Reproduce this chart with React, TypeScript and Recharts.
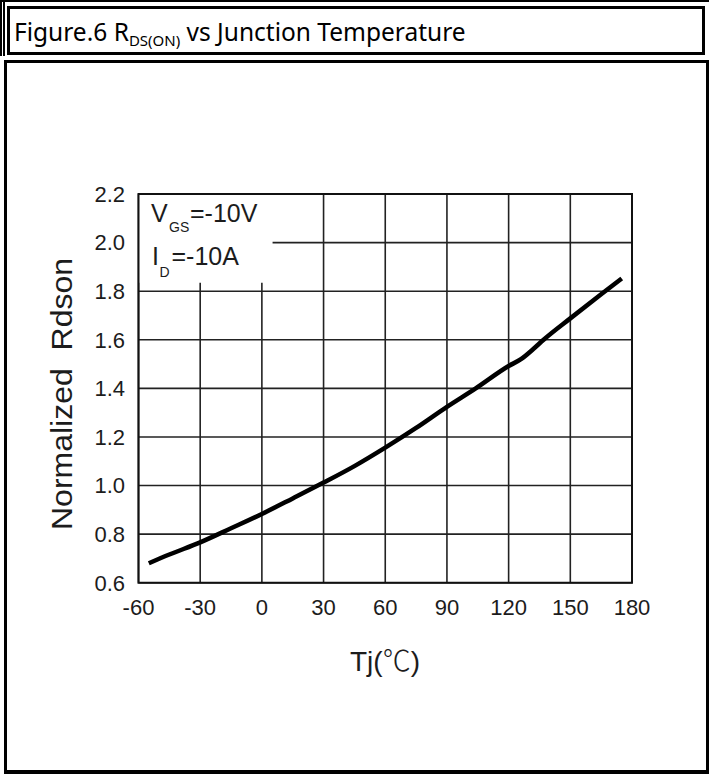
import React from 'react';
import { LineChart, Line, XAxis, YAxis, CartesianGrid, ReferenceArea } from 'recharts';

// Junction temperature (°C) and normalized Rdson
const temps = [-55, -45, -30, -15, 0, 15, 30, 45, 60, 75, 90, 104, 120, 126, 132, 137, 150, 165, 175];
const rdson = [0.68, 0.716, 0.766, 0.824, 0.883, 0.947, 1.012, 1.08, 1.156, 1.237, 1.324, 1.4, 1.492, 1.52, 1.562, 1.6, 1.688, 1.787, 1.852];
const xTicks = [-60, -30, 0, 30, 60, 90, 120, 150, 180];
const yTicks = [0.6, 0.8, 1.0, 1.2, 1.4, 1.6, 1.8, 2.0, 2.2];

const data = temps.map((t, i) => ({ t, r: rdson[i] }));

const FONT = '"Liberation Sans", Arial, sans-serif';
const TXT = '#1c1c1c';

export default function App() {
  return (
    <div style={{ position: 'absolute', left: 0, top: 0, width: 709, height: 776, background: '#fff', overflow: 'hidden' }}>
      {/* frame */}
      <div style={{ position: 'absolute', left: 0, top: 0, width: 709, height: 2, background: '#000' }} />
      <div style={{ position: 'absolute', left: 0, top: 0, width: 1.5, height: 56, background: '#000' }} />
      <div style={{ position: 'absolute', left: 3, top: 0, width: 1.5, height: 56, background: '#000' }} />
      <div
        style={{
          position: 'absolute', left: 7, top: 5.5, width: 698, height: 49, border: '3px solid #000',
          boxSizing: 'border-box', display: 'flex', alignItems: 'center', paddingLeft: 4, paddingTop: 2,
          fontFamily: '"Noto Sans", "Open Sans", sans-serif', fontSize: 24.5, color: '#000', whiteSpace: 'nowrap',
        }}
      >
        <span>
          Figure.6 R<span style={{ fontSize: 15, position: 'relative', top: 5 }}>DS(ON)</span> vs Junction Temperature
        </span>
      </div>
      <div
        style={{
          position: 'absolute', left: 3.5, top: 59.5, width: 705.5, height: 714, boxSizing: 'border-box',
          borderLeft: '3.5px solid #000', borderTop: '3px solid #000', borderRight: '3.5px solid #000', borderBottom: '4px solid #000',
        }}
      />

      <div style={{ position: 'absolute', left: 0, top: 0 }}>
        <LineChart width={709} height={776} data={data} margin={{ top: 194, right: 77, bottom: 163.3, left: 58.5 }}>
          <CartesianGrid stroke="#222" strokeWidth={1.6} />
          <XAxis
            dataKey="t"
            type="number"
            domain={[-60, 180]}
            ticks={xTicks}
            height={30}
            tickSize={0}
            tickMargin={17}
            axisLine={false}
            tickLine={false}
            tick={{ fill: TXT, fontSize: 22, fontFamily: FONT }}
            interval={0}
          />
          <YAxis
            type="number"
            domain={[0.6, 2.2]}
            ticks={yTicks}
            width={80}
            tickSize={0}
            tickMargin={13.5}
            axisLine={false}
            tickLine={false}
            tickFormatter={(v: number) => v.toFixed(1)}
            tick={{ fill: TXT, fontSize: 22, fontFamily: FONT }}
            interval={0}
          />
          <ReferenceArea x1={-60} x2={5.2} y1={1.835} y2={2.2} fill="#fff" fillOpacity={1} stroke="none" ifOverflow="visible" />
          <ReferenceArea x1={-60} x2={180} y1={0.6} y2={2.2} fill="none" fillOpacity={0} stroke="#111" strokeWidth={2} ifOverflow="visible" />
          <Line type="monotone" dataKey="r" stroke="#000" strokeWidth={4.5} dot={false} activeDot={false} isAnimationActive={false} />
        </LineChart>
      </div>

      <svg width={709} height={776} style={{ position: 'absolute', left: 0, top: 0, pointerEvents: 'none' }}>
        <g fill={TXT} fontFamily={FONT}>
          <text x={151} y={221.7} fontSize={25}>V</text>
          <text x={169} y={231.7} fontSize={14}>GS</text>
          <text x={190} y={221.7} fontSize={25}>=-10V</text>
          <text x={152} y={265} fontSize={25}>I</text>
          <text x={159.5} y={276.7} fontSize={14}>D</text>
          <text x={171.5} y={265} fontSize={25}>=-10A</text>
          <text
            transform="translate(71.5, 394) rotate(-90)"
            textAnchor="middle"
            fontSize={29}
            textLength={272}
            lengthAdjust="spacingAndGlyphs"
            style={{ whiteSpace: 'pre' }}
          >
            Normalized  Rdson
          </text>
          <text x={385} y={671} textAnchor="middle" fontSize={28}>
            Tj(<tspan fontFamily='"Noto Sans CJK SC", "DejaVu Sans", sans-serif' fontWeight={300}>℃</tspan>)
          </text>
        </g>
      </svg>
    </div>
  );
}
